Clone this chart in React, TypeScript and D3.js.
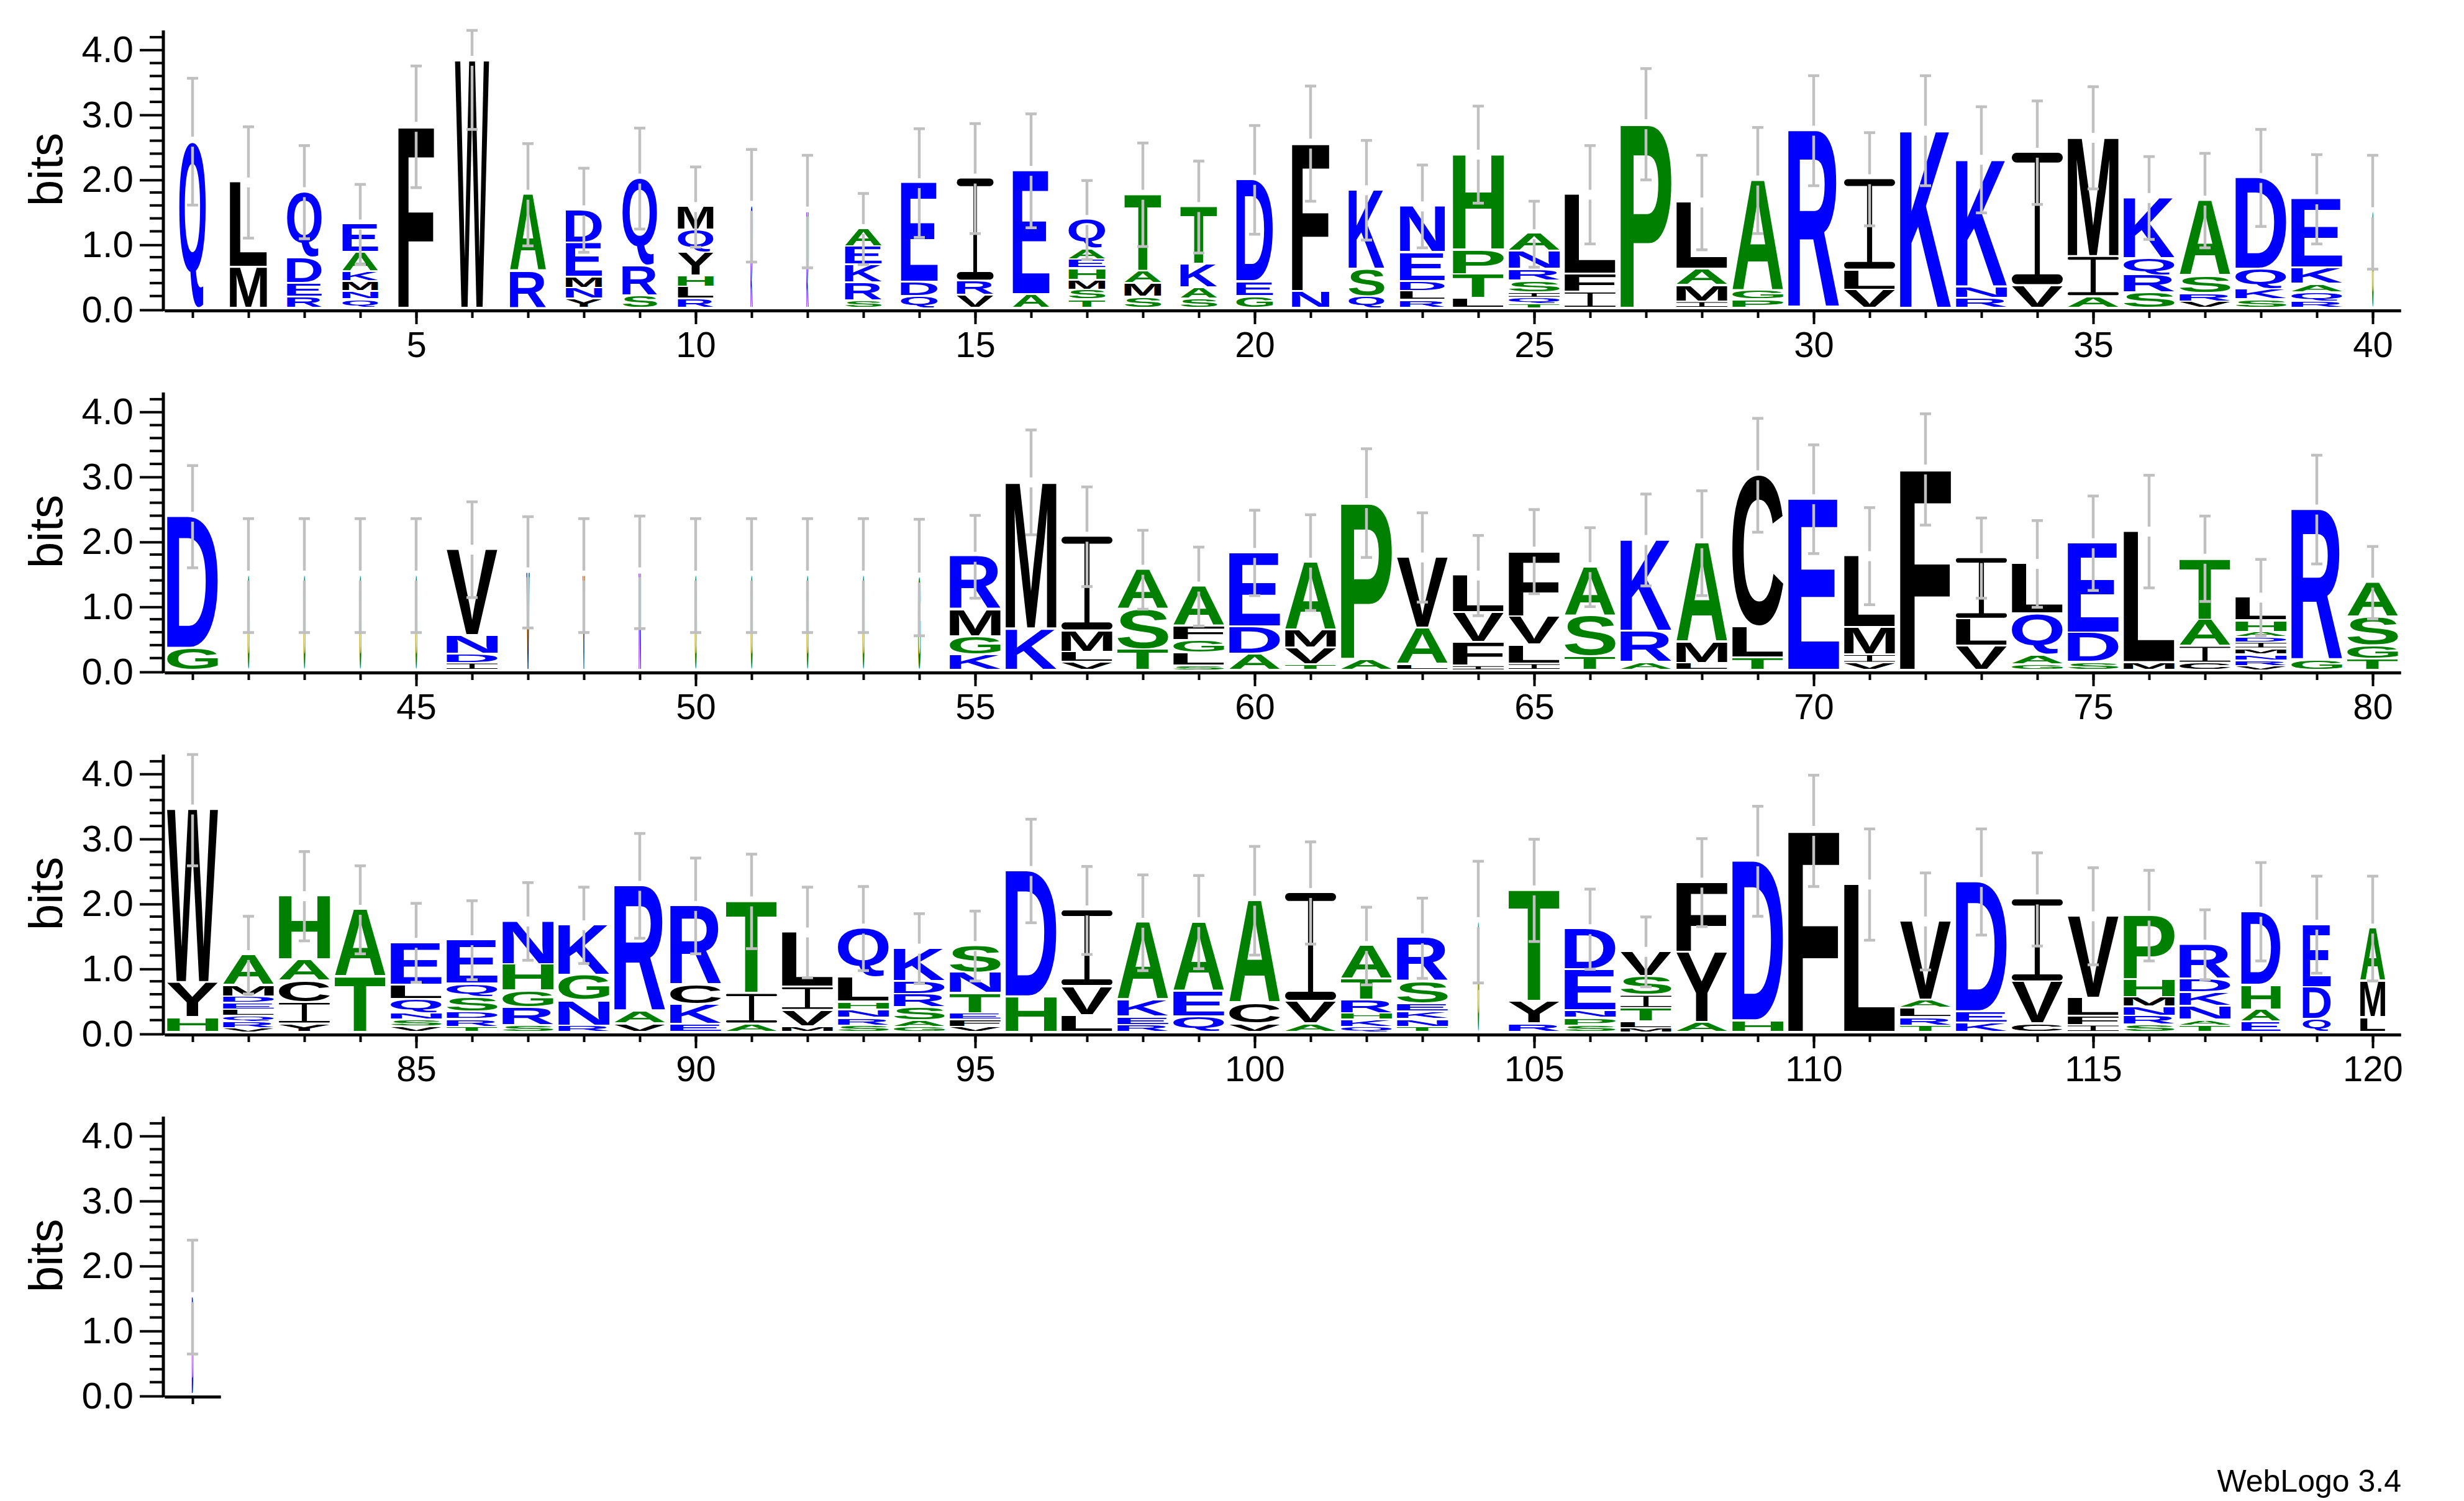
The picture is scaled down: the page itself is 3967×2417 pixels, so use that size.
import * as d3 from "d3";
import { useEffect, useRef } from "react";

// sequence logo columns, letters listed top -> bottom of each stack
const letters = [
  "Q", "LM", "QDER", "EAKMNQ", "F", "W", "AR", "DEMNY", "QRS", "MQYHLR",
  "QK", "NK", "AEKRS", "EDQ", "IRV", "EA", "QAEHMST", "TAMS", "TKAS", "DEG",
  "FN", "KSQ", "NEDLR", "HPTL", "ANRSIQT", "LFI", "P", "LAMI", "AGP", "R",
  "ILV", "K", "KNR", "IV", "MIA", "KQRS", "ASRV", "DQKS", "EKAQR", "G",
  "DG", "G", "G", "G", "G", "VNDI", "V", "V", "N", "G",
  "G", "G", "G", "G", "RMGK", "MK", "IMLV", "AST", "AFGLS", "EDA",
  "AMVT", "PA", "VAL", "LVFI", "FVLI", "AST", "KRA", "AML", "CLT", "E",
  "LMIV", "F", "ILV", "LQAG", "EDS", "LM", "TAIC", "LHADIMNRV", "RG", "ASGT",
  "WYH", "AMDELQRV", "HACIY", "AT", "ELQNSV", "EQSDRT", "NHGRS", "KGNR", "RAV", "RCKE",
  "TIA", "LIVM", "QLHNRS", "KDRSAG", "SNTEFV", "DH", "IVL", "AKER", "AEQ", "ACV",
  "IVA", "ATRHKQ", "RSEKNT", "G", "TYR", "DENPS", "VSITLM", "FYA", "DH", "F",
  "L", "VALRT", "DEK", "IVC", "VLFI", "PHMNRS", "RDKNAT", "DHAE", "EDQ", "AML",
  "D",
];

// bits of each letter, same order as letters
const bits = [
  [2.58], [1.32, 0.63], [1.02, 0.4, 0.21, 0.17], [0.44, 0.3, 0.15, 0.15, 0.13, 0.13], [2.81],
  [3.83], [1.19, 0.57], [0.51, 0.53, 0.17, 0.17, 0.14], [1.36, 0.46, 0.19], [0.36, 0.35, 0.36, 0.17, 0.19, 0.14],
  [0.85, 0.74], [0.8, 0.7], [0.28, 0.28, 0.28, 0.28, 0.11], [1.54, 0.22, 0.18], [1.59, 0.22, 0.2],
  [1.92, 0.21], [0.46, 0.16, 0.14, 0.18, 0.15, 0.15, 0.13], [1.19, 0.19, 0.21, 0.17], [0.89, 0.36, 0.18, 0.14], [1.58, 0.23, 0.18],
  [2.29, 0.26], [1.23, 0.42, 0.18], [0.72, 0.45, 0.15, 0.14, 0.12], [1.48, 0.38, 0.37, 0.15], [0.27, 0.28, 0.18, 0.18, 0.08, 0.1, 0.06],
  [1.23, 0.28, 0.25], [2.85], [1.04, 0.25, 0.25, 0.1], [1.71, 0.14, 0.13], [2.75],
  [1.41, 0.31, 0.28], [2.75], [1.97, 0.18, 0.15], [2.06, 0.35], [1.84, 0.62, 0.18],
  [0.94, 0.26, 0.27, 0.24], [1.17, 0.27, 0.13, 0.1], [1.42, 0.31, 0.16, 0.13], [1.07, 0.25, 0.13, 0.14, 0.1], [1.49],
  [2.04, 0.34], [1.47], [1.47], [1.47], [1.47],
  [1.33, 0.29, 0.14, 0.11], [1.52], [1.47], [1.52], [1.47],
  [1.47], [1.47], [1.47], [1.44], [0.83, 0.41, 0.28, 0.24],
  [2.27, 0.64], [1.46, 0.33, 0.16, 0.12], [0.62, 0.62, 0.32], [0.62, 0.22, 0.19, 0.2, 0.07], [1.15, 0.42, 0.25],
  [1.05, 0.27, 0.26, 0.09], [2.42, 0.17], [1.1, 0.56, 0.09], [0.58, 0.46, 0.36, 0.07], [1.01, 0.44, 0.29, 0.1],
  [0.76, 0.63, 0.21], [1.42, 0.48, 0.12], [1.54, 0.32, 0.11], [2.35, 0.48, 0.19], [2.65],
  [1.11, 0.42, 0.13, 0.11], [3.11], [0.95, 0.42, 0.37], [0.78, 0.64, 0.14, 0.09], [1.39, 0.46, 0.12],
  [2.03, 0.12], [0.95, 0.41, 0.26, 0.11], [0.36, 0.18, 0.08, 0.08, 0.1, 0.09, 0.09, 0.09, 0.06], [2.34, 0.15], [0.54, 0.44, 0.21, 0.17],
  [2.68, 0.54, 0.23], [0.47, 0.18, 0.1, 0.1, 0.1, 0.09, 0.1, 0.06], [0.99, 0.33, 0.33, 0.33, 0.13], [1.04, 0.86], [0.66, 0.22, 0.22, 0.1, 0.1, 0.09],
  [0.68, 0.21, 0.23, 0.11, 0.12, 0.08], [0.67, 0.41, 0.26, 0.28, 0.1], [0.78, 0.39, 0.39, 0.1], [1.95, 0.19, 0.13], [1.23, 0.3, 0.31, 0.12],
  [1.43, 0.47, 0.13], [0.85, 0.36, 0.25, 0.09], [0.76, 0.38, 0.12, 0.13, 0.12, 0.1], [0.51, 0.2, 0.21, 0.2, 0.1, 0.08], [0.42, 0.32, 0.31, 0.1, 0.11, 0.08],
  [1.95, 0.55], [1.18, 0.45, 0.26], [1.2, 0.26, 0.13, 0.11], [1.07, 0.4, 0.24], [1.59, 0.32, 0.13],
  [1.68, 0.35, 0.13], [0.52, 0.32, 0.21, 0.1, 0.11, 0.08], [0.68, 0.34, 0.12, 0.12, 0.12, 0.08], [1.71], [1.72, 0.35, 0.13],
  [0.63, 0.63, 0.12, 0.12, 0.1], [0.39, 0.29, 0.2, 0.21, 0.1, 0.06], [1.08, 1.09, 0.15], [2.47, 0.18], [3.12],
  [2.29], [1.22, 0.13, 0.14, 0.13, 0.1], [2.01, 0.18, 0.14], [1.28, 0.65, 0.13], [1.27, 0.28, 0.14, 0.11],
  [0.99, 0.28, 0.15, 0.14, 0.14, 0.11], [0.54, 0.21, 0.21, 0.21, 0.09, 0.1], [1.14, 0.38, 0.19, 0.16], [0.98, 0.49, 0.2], [0.82, 0.56, 0.23],
  [1.51],
];

// half length of the error bar (bits)
const errorBars = [
  0.98, 0.86, 0.72, 0.62, 0.94, 1.06, 0.79, 0.65, 0.78, 0.62,
  0.87, 0.87, 0.55, 0.84, 0.85, 0.88, 0.61, 0.8, 0.71, 0.84,
  0.89, 0.77, 0.64, 0.75, 0.51, 0.76, 0.86, 0.73, 0.82, 0.85,
  0.72, 0.85, 0.82, 0.8, 0.79, 0.64, 0.73, 0.75, 0.69, 0.88,
  0.79, 0.88, 0.88, 0.88, 0.88, 0.74, 0.86, 0.88, 0.87, 0.88,
  0.88, 0.88, 0.88, 0.9, 0.64, 0.81, 0.77, 0.61, 0.61, 0.66,
  0.74, 0.84, 0.69, 0.62, 0.65, 0.61, 0.71, 0.81, 0.88, 0.84,
  0.75, 0.86, 0.62, 0.67, 0.73, 0.87, 0.66, 0.59, 0.84, 0.56,
  0.87, 0.6, 0.69, 0.68, 0.61, 0.61, 0.6, 0.59, 0.81, 0.74,
  0.73, 0.7, 0.65, 0.54, 0.54, 0.8, 0.68, 0.74, 0.72, 0.84,
  0.79, 0.6, 0.62, 0.94, 0.79, 0.62, 0.54, 0.68, 0.85, 0.86,
  0.86, 0.75, 0.82, 0.72, 0.75, 0.7, 0.54, 0.76, 0.75, 0.81,
  0.88,
];

// fraction of sequences without a gap (stack width)
const stackWidths = [
  0.52, 0.73, 0.68, 0.7, 0.7, 0.67, 0.71, 0.71, 0.68, 0.7,
  0.04, 0.04, 0.72, 0.72, 0.72, 0.72, 0.72, 0.72, 0.72, 0.72,
  0.73, 0.7, 0.88, 1, 1, 1, 1, 1, 1, 1,
  1, 1, 1, 1, 1, 1, 1, 1, 1, 0.03,
  1, 0.035, 0.035, 0.035, 0.035, 1, 0.06, 0.04, 0.04, 0.035,
  0.035, 0.035, 0.035, 0.05, 1, 1, 1, 1, 1, 1,
  1, 1, 1, 1, 1, 1, 1, 1, 1, 1,
  1, 1, 1, 1, 1, 1, 1, 1, 1, 1,
  1, 1, 1, 1, 1, 1, 1, 1, 1, 1,
  1, 1, 1, 1, 1, 1, 1, 1, 1, 1,
  1, 1, 1, 0.03, 1, 1, 1, 1, 1, 1,
  1, 1, 1, 1, 1, 1, 1, 0.77, 0.55, 0.49,
  0.03,
];

const rowStarts = [1, 41, 81, 121];
const yMajorTicks = [0, 1, 2, 3, 4];
const yMinorTicks = [0.2, 0.4, 0.6, 0.8, 1.2, 1.4, 1.6, 1.8, 2.2, 2.4, 2.6, 2.8, 3.2, 3.4, 3.6, 3.8, 4.2];

const BLUE = "RKDENQ";
const GREEN = "SGHTAP";
const colorOf = (c: string) =>
  BLUE.includes(c) ? "#0000ff" : GREEN.includes(c) ? "#008000" : "#000000";

const FONT = "'Liberation Sans', Arial, Helvetica, sans-serif";
const W = 3967;
const H = 2417;
const X0 = 265;
const COL = 90;
const STACK_W = 82;
const BASE0 = 497;
const ROW_GAP = 583;
const PX_PER_BIT = 104.2;
const Y_MAX = 4.32;

export default function App() {
  const ref = useRef<SVGSVGElement>(null);

  useEffect(() => {
    document.body.style.margin = "0";
    const svg = d3.select(ref.current);
    svg.selectAll("*").remove();
    svg.append("rect").attr("width", W).attr("height", H).attr("fill", "white");

    // ink boxes of the glyphs
    const canvas = document.createElement("canvas");
    const ctx = canvas.getContext("2d")!;
    ctx.font = `bold 200px ${FONT}`;
    const metrics: Record<string, { l: number; a: number; w: number; h: number }> = {};
    "ACDEFGHKLMNPQRSTVWY".split("").forEach((c) => {
      const m = ctx.measureText(c);
      metrics[c] = {
        l: m.actualBoundingBoxLeft,
        a: m.actualBoundingBoxAscent,
        w: m.actualBoundingBoxLeft + m.actualBoundingBoxRight,
        h: m.actualBoundingBoxAscent + m.actualBoundingBoxDescent,
      };
    });

    rowStarts.forEach((start, r) => {
      const last = Math.min(start + 39, letters.length);
      const base = BASE0 + r * ROW_GAP;
      const x = d3
        .scaleLinear()
        .domain([start - 0.5, last + 0.5])
        .range([X0, X0 + (last - start + 1) * COL]);
      const y = d3.scaleLinear().domain([0, Y_MAX]).range([base, base - Y_MAX * PX_PER_BIT]);
      const row = svg.append("g");
      const positions = d3.range(start, last + 1);

      // stacks
      positions.forEach((p) => {
        const i = p - 1;
        const hs = bits[i];
        const w = STACK_W * stackWidths[i];
        let cum = d3.sum(hs);
        letters[i].split("").forEach((c, k) => {
          const top = y(cum);
          const bottom = y(cum - hs[k]);
          cum -= hs[k];
          const boxH = bottom - top;
          const inkH = boxH > 10 ? boxH - 3 : boxH * 0.7;
          const x0 = x(p) - w / 2;
          if (c === "I") {
            // serif I like WebLogo's glyph
            const t = Math.max(1, inkH * 0.075);
            const gI = row.append("g").attr("fill", colorOf(c));
            gI.append("rect").attr("x", x0).attr("y", top).attr("width", w).attr("height", t).attr("rx", t / 2);
            gI.append("rect")
              .attr("x", x0)
              .attr("y", top + inkH - t)
              .attr("width", w)
              .attr("height", t)
              .attr("rx", t / 2);
            gI.append("rect")
              .attr("x", x(p) - w * 0.05)
              .attr("y", top + t * 0.5)
              .attr("width", w * 0.1)
              .attr("height", inkH - t);
            return;
          }
          const m = metrics[c];
          row
            .append("text")
            .text(c)
            .attr("font-family", FONT)
            .attr("font-weight", "bold")
            .attr("font-size", 200)
            .attr("fill", colorOf(c))
            .attr(
              "transform",
              `translate(${x0},${top}) scale(${w / m.w},${inkH / m.h}) translate(${m.l},${m.a})`
            );
        });
      });

      // error bars
      const eb = row.append("g").attr("stroke", "#c0c0c0").attr("fill", "none");
      positions.forEach((p) => {
        const i = p - 1;
        const t = d3.sum(bits[i]);
        const lo = y(Math.max(0, t - errorBars[i]));
        const hi = y(Math.min(4.3, t + errorBars[i]));
        const mid = y(t);
        const cx = x(p);
        eb.append("line").attr("x1", cx).attr("x2", cx).attr("y1", hi).attr("y2", mid - 8).attr("stroke-width", 4.5);
        eb.append("line").attr("x1", cx).attr("x2", cx).attr("y1", mid + 8).attr("y2", lo).attr("stroke-width", 4.5);
        [hi, lo].forEach((yy) =>
          eb.append("line").attr("x1", cx - 9).attr("x2", cx + 9).attr("y1", yy).attr("y2", yy).attr("stroke-width", 4.5)
        );
      });

      // y axis
      const yAxisScale = d3.scaleLinear().domain([0, 4.3]).range([base + 2, y(4.3)]);
      const ya = row.append("g").attr("transform", `translate(${X0 - 2},0)`);
      ya.call(
        d3
          .axisLeft(yAxisScale)
          .tickValues(yMajorTicks)
          .tickSize(38)
          .tickSizeOuter(0)
          .tickPadding(10)
          .tickFormat((d) => d3.format(".1f")(d as number))
      );
      ya.append("g").call(d3.axisLeft(y).tickValues(yMinorTicks).tickSize(22).tickFormat(() => ""));
      ya.selectAll("g > path").remove();
      ya.selectAll("line").attr("stroke", "#000").attr("stroke-width", 4);
      ya.append("line")
        .attr("x1", 0)
        .attr("x2", 0)
        .attr("y1", base + 4)
        .attr("y2", y(4.3))
        .attr("stroke", "#000")
        .attr("stroke-width", 5);
      ya.selectAll("text").attr("font-family", FONT).attr("font-size", 60).attr("fill", "#000");

      row
        .append("text")
        .text("bits")
        .attr("font-family", FONT)
        .attr("font-size", 76)
        .attr("text-anchor", "middle")
        .attr("transform", `translate(100,${y(2.15)}) rotate(-90)`);

      // x axis
      const xa = row.append("g").attr("transform", `translate(0,${base + 3})`);
      xa.call(d3.axisBottom(x).tickValues(positions).tickSize(12).tickSizeOuter(0).tickFormat(() => ""));
      xa.append("g").call(
        d3
          .axisBottom(x)
          .tickValues(positions.filter((p) => p % 5 === 0))
          .tickSize(22)
          .tickSizeOuter(0)
          .tickPadding(12)
      );
      xa.selectAll("path").attr("stroke", "#000").attr("stroke-width", 4.5);
      xa.selectAll("line").attr("stroke", "#000").attr("stroke-width", 4);
      xa.selectAll("text").attr("font-family", FONT).attr("font-size", 58).attr("fill", "#000");
    });

    svg
      .append("text")
      .text("WebLogo 3.4")
      .attr("x", 3866)
      .attr("y", 2402)
      .attr("text-anchor", "end")
      .attr("font-family", FONT)
      .attr("font-size", 50);
  }, []);

  return <svg ref={ref} width={W} height={H} style={{ display: "block" }} />;
}
